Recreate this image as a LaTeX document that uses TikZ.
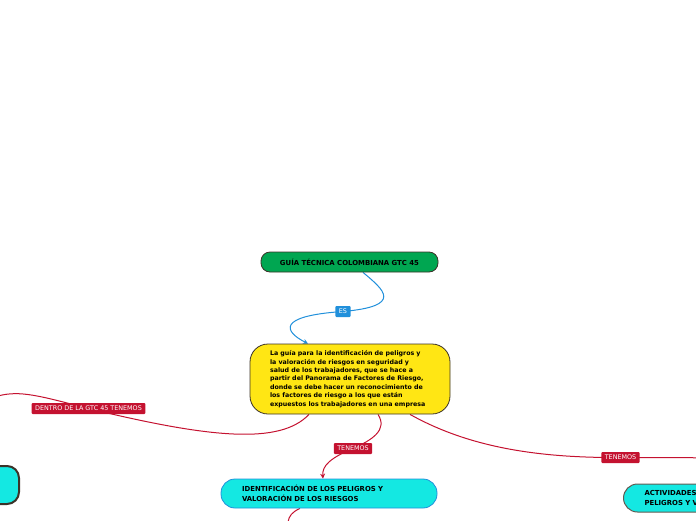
\documentclass[tikz,border=0pt]{standalone}
\usepackage{fontspec}
\setmainfont{DejaVu Sans}
\usetikzlibrary{arrows.meta,backgrounds}
\definecolor{mgreen}{RGB}{0,166,81}
\definecolor{myellow}{RGB}{255,230,20}
\definecolor{mcyan}{RGB}{20,232,226}
\definecolor{mred}{RGB}{196,18,48}
\definecolor{mblue}{RGB}{33,144,219}
\definecolor{mborder}{RGB}{60,50,40}
\tikzset{
  topicbox/.style={draw=mborder, line width=0.8pt, font=\bfseries\fontsize{6.3}{8.4}\selectfont, text=black},
  capsfont/.style={font=\bfseries\fontsize{6.9}{9.5}\selectfont},
  redlbl/.style={fill=mred, text=white, font=\fontsize{6.4}{7}\selectfont, inner xsep=3.5pt, inner ysep=0pt, minimum height=11pt, rounded corners=1pt},
  bluelbl/.style={fill=mblue, text=white, font=\fontsize{6.4}{7}\selectfont, inner xsep=3.5pt, inner ysep=0pt, minimum height=11pt, rounded corners=1pt},
  redline/.style={draw=mred, line width=1pt},
  blueline/.style={draw=mblue, line width=1pt},
  tip/.style={-{Stealth[length=5pt,width=5pt]}}
}
\begin{document}
\begin{tikzpicture}[x=1pt,y=-1pt]
\useasboundingbox (0,0) rectangle (696,520);
\begin{scope}
\clip (0,0) rectangle (696,520);
% nodes
\node[topicbox, capsfont, fill=mgreen, rounded corners=9pt, minimum width=177pt, minimum height=20pt, inner sep=0pt] (g) at (349.5,262) {GUÍA TÉCNICA COLOMBIANA GTC 45};
\node[topicbox, fill=myellow, rounded corners=18pt, minimum width=200pt, minimum height=70pt, text width=160pt, inner xsep=20pt, inner ysep=0pt, align=left] (y) at (350,379) {La guía para la identificación de peligros y\\la valoración de riesgos en seguridad y\\salud de los trabajadores, que se hace a\\partir del Panorama de Factores de Riesgo,\\donde se debe hacer un reconocimiento de\\los factores de riesgo a los que están\\expuestos los trabajadores en una empresa};
\node[topicbox, capsfont, draw=mblue, fill=mcyan, rounded corners=14pt, minimum width=216pt, minimum height=29pt, text width=174pt, inner xsep=21pt, inner ysep=0pt, align=left] (c1) at (329,493.5) {IDENTIFICACIÓN DE LOS PELIGROS Y\\VALORACIÓN DE LOS RIESGOS};
\node[topicbox, draw=mborder, line width=2pt, fill=mcyan, rounded corners=12pt, minimum width=60pt, minimum height=38pt] (c0) at (-11,485) {};
\node[topicbox, capsfont, draw=mborder!80, line width=1pt, fill=mcyan, rounded corners=14pt, minimum width=140pt, minimum height=28pt, text width=100pt, inner xsep=21pt, inner ysep=0pt, align=left, anchor=west] (c2) at (623,498) {ACTIVIDADES\\PELIGROS Y V};
% labels
\node[bluelbl] (es) at (343,311.5) {ES};
\node[redlbl] (l1) at (88.5,408.5) {DENTRO DE LA GTC 45 TENEMOS};
\node[redlbl] (l2) at (353,448.5) {TENEMOS};
\node[redlbl] (l3) at (620.5,457.5) {TENEMOS};
\coordinate (leftend) at (-2,396);
\coordinate (rightend) at (700,458);
\coordinate (botend) at (288,522);
\begin{pgfonlayer}{background}
\path[blueline] ([xshift=13.5pt]g.south) .. controls (384,290) and (404,306) .. (es.center);
\path[blueline, tip] (es.center) .. controls (275,316) and (285,332) .. ([xshift=-42pt]y.north);
\path[redline] ([xshift=-41pt]y.south) .. controls (280,445) and (210,438) .. (l1.center);
\path[redline] (l1.center) .. controls (40,396) and (20,390) .. (leftend);
\path[redline] ([xshift=28pt]y.south) .. controls (388,430) and (372,440) .. (l2.center);
\path[redline, tip] (l2.center) .. controls (330,458) and (322,466) .. ([xshift=-6pt]c1.north);
\path[redline] ([xshift=60pt]y.south) .. controls (470,448) and (540,458) .. (l3.center);
\path[redline] (l3.center) .. controls (650,458) and (680,457) .. (rightend);
\path[redline] ([xshift=-29pt]c1.south) .. controls (292,512) and (289,516) .. (botend);
\end{pgfonlayer}
\end{scope}
\end{tikzpicture}
\end{document}
